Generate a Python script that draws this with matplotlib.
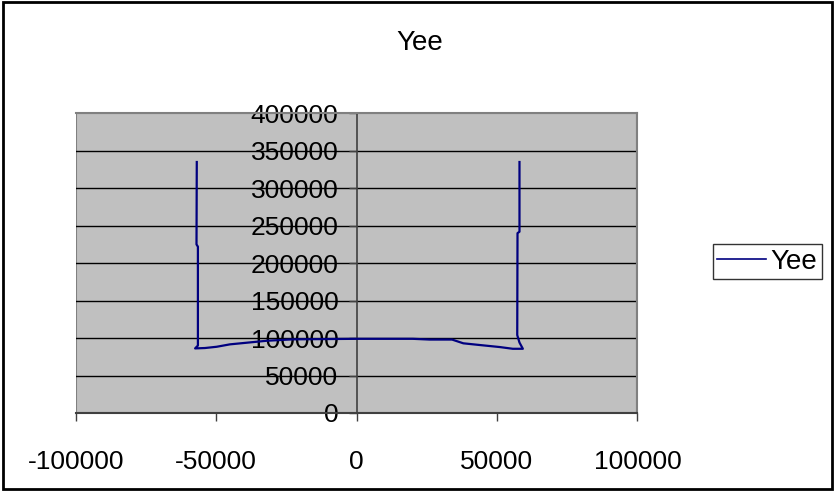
import matplotlib.pyplot as plt
from matplotlib.patches import Rectangle

plt.rcParams['font.family'] = ['Liberation Sans', 'DejaVu Sans']

# Yee 곡선 데이터
x_vals = [-56900, -57000, -56500, -56500, -57500, -54000, -49800, -45100, -38000, -32000,
          -22700, 0, 20000, 26000, 34000, 38000, 43900, 51000, 55600, 59200,
          58000, 57200, 57300, 58000, 58000]
y_vals = [335000, 225000, 222000, 90000, 86200, 86700, 88400, 91600, 94200, 96400,
          98300, 99000, 99000, 98000, 98000, 93000, 90700, 88000, 85700, 85700,
          94000, 104000, 240000, 242000, 335000]
x_ticks = [-100000, -50000, 0, 50000, 100000]
y_ticks = [0, 50000, 100000, 150000, 200000, 250000, 300000, 350000, 400000]
series_name = 'Yee'

fig = plt.figure(figsize=(8.35, 4.91), dpi=100)
ax = fig.add_axes([0.0907, 0.1589, 0.6727, 0.6103])
ax.set_facecolor('#C0C0C0')

ax.set_xlim(-100000, 100000)
ax.set_ylim(0, 400000)

for y in y_ticks[1:-1]:
    ax.axhline(y, color='black', lw=1, zorder=1)

ax.plot(x_vals, y_vals, color='#000080', lw=1.6, zorder=3, label=series_name)

# 세로축을 x=0 위치로 이동
ax.spines['left'].set_position(('data', 0))
ax.spines['left'].set_color('#404040')
ax.spines['bottom'].set_color('#404040')
ax.spines['left'].set_linewidth(1.2)
ax.spines['bottom'].set_linewidth(1.5)
ax.spines['top'].set_color('#808080')
ax.spines['right'].set_color('#808080')
ax.spines['top'].set_linewidth(1.5)
ax.spines['right'].set_linewidth(1.5)
ax.add_patch(Rectangle((0, 0), 1, 1, transform=ax.transAxes, fill=False,
                       edgecolor='#808080', lw=1.5, zorder=0))

ax.set_xticks(x_ticks)
ax.set_yticks(y_ticks)
ax.set_xticklabels([str(v) for v in x_ticks])
ax.set_yticklabels([str(v) for v in y_ticks])
ax.tick_params(axis='both', direction='out', length=6, width=1, color='#404040',
               labelsize=19)
ax.tick_params(axis='y', pad=7)
ax.tick_params(axis='x', pad=21)

fig.text(0.503, 0.913, 'Yee', ha='center', va='center', fontsize=20)

leg = ax.legend(loc='center', bbox_to_anchor=(0.919, 0.4674), bbox_transform=fig.transFigure,
                fontsize=20, frameon=True, fancybox=False, handlelength=1.75,
                handletextpad=0.18, borderpad=0.15, borderaxespad=0)
leg.get_frame().set_edgecolor('black')
leg.get_frame().set_linewidth(1)
leg.get_lines()[0].set_linewidth(1.2)

# 차트 외곽 테두리
fig.patches.append(Rectangle((0.003, 0.005), 0.994, 0.99, transform=fig.transFigure,
                             fill=False, edgecolor='black', lw=2))

plt.savefig('out.png', dpi=100)
